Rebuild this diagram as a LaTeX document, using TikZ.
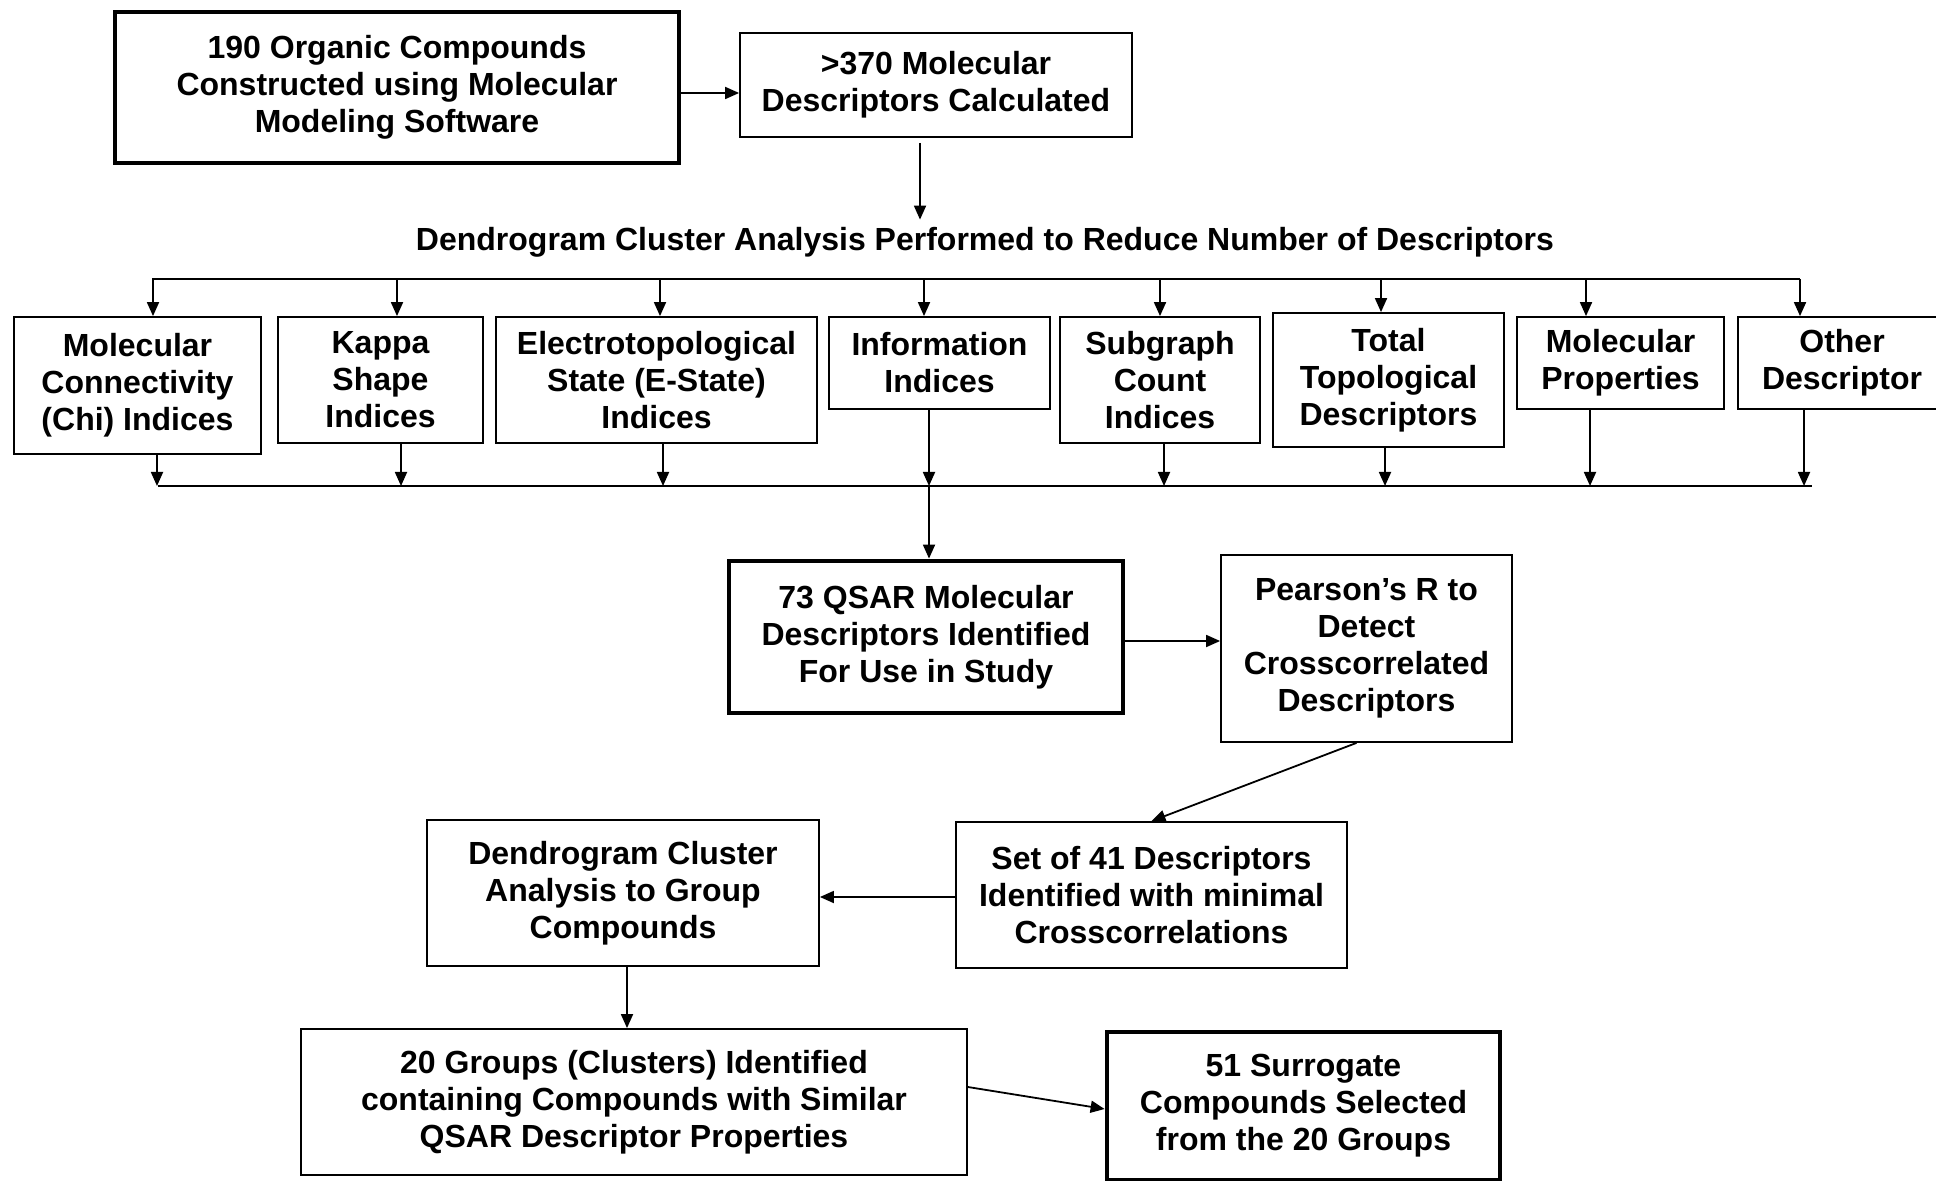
\documentclass[tikz,border=0pt]{standalone}
\usepackage{fontspec}
\setmainfont{Liberation Sans}
\usetikzlibrary{arrows.meta}
\begin{document}
\begin{tikzpicture}[x=0.5pt,y=-0.5pt,
  every node/.style={font=\fontsize{16}{18.5}\selectfont\bfseries, align=center, inner sep=0pt},
  box/.style={draw, line width=0.9pt},
  thickbox/.style={draw, line width=2.4pt},
  conn/.style={line width=0.9pt},
  arr/.style={conn, -{Triangle[length=7pt,width=6pt]}}]
\useasboundingbox (0,0) rectangle (1936,1181);

% top boxes
\node[thickbox, minimum width=282pt, minimum height=75.5pt] (b1) at (397,87.5) {190 Organic Compounds\\Constructed using Molecular\\Modeling Software};
\node[box, minimum width=196pt, minimum height=52pt] (b2) at (936,85) {>370 Molecular\\Descriptors Calculated};
\node (title) at (985,242) {Dendrogram Cluster Analysis Performed to Reduce Number of Descriptors};

\coordinate (ab) at ([yshift=-2.75pt]b1.east);
\draw[arr] (ab) -- (ab -| b2.west);
\coordinate (bt) at ([xshift=-8pt,yshift=-2.5pt]b2.south);
\draw[arr, shorten >=3.5pt] (bt) -- (bt |- title.north);

% descriptor row
\node[box, minimum width=123.5pt, minimum height=68.5pt] (r1) at (137.5,385.5) {Molecular\\Connectivity\\(Chi) Indices};
\node[box, minimum width=102.5pt, minimum height=63pt] (r2) at (380.5,380) {Kappa\\Shape\\Indices};
\node[box, minimum width=160.5pt, minimum height=63pt] (r3) at (656.5,380) {Electrotopological\\State (E-State)\\Indices};
\node[box, minimum width=110.5pt, minimum height=46pt] (r4) at (939.5,363) {Information\\Indices};
\node[box, minimum width=100pt, minimum height=63pt] (r5) at (1160,380) {Subgraph\\Count\\Indices};
\node[box, minimum width=115.5pt, minimum height=67pt] (r6) at (1388.5,380) {Total\\Topological\\Descriptors};
\node[box, minimum width=103.5pt, minimum height=46pt] (r7) at (1620.5,363) {Molecular\\Properties};
\node[box, minimum width=104pt, minimum height=46pt] (r8) at (1842,363) {Other\\Descriptor};

% top bus
\coordinate (busL) at (152,279);
\coordinate (busR) at (1800,279);
\draw[conn] (busL) -- (busR);
\foreach \x/\n in {153/r1, 397/r2, 660/r3, 924/r4, 1160/r5, 1381/r6, 1586/r7, 1800/r8}{
  \coordinate (tX) at (\x,279);
  \draw[arr] (tX) -- (tX |- \n.north);
}

% bottom bus
\coordinate (bbL) at (158,486);
\coordinate (bbR) at (1812,486);
\draw[conn] (bbL) -- (bbR);
\foreach \x/\n in {157/r1, 401/r2, 663/r3, 929/r4, 1164/r5, 1385/r6, 1590/r7, 1804/r8}{
  \coordinate (bX) at (\x,486);
  \draw[arr] (bX |- \n.south) -- (bX);
}

% lower part
\node[thickbox, minimum width=197pt, minimum height=76pt] (q) at (926,637) {73 QSAR Molecular\\Descriptors Identified\\For Use in Study};
\node[box, minimum width=145.5pt, minimum height=93.5pt] (p) at (1366.5,648.5) {Pearson’s R to\\Detect\\Crosscorrelated\\Descriptors};
\node[box, minimum width=195.5pt, minimum height=73pt] (s) at (1151.5,895) {Set of 41 Descriptors\\Identified with minimal\\Crosscorrelations};
\node[box, minimum width=196pt, minimum height=73pt] (d) at (623,893) {Dendrogram Cluster\\Analysis to Group\\Compounds};
\node[box, minimum width=333pt, minimum height=73pt] (g) at (634,1102) {20 Groups (Clusters) Identified\\containing Compounds with Similar\\QSAR Descriptor Properties};
\node[thickbox, minimum width=196.5pt, minimum height=74pt] (u) at (1303.5,1106) {51 Surrogate\\Compounds Selected\\from the 20 Groups};

\coordinate (qin) at (929,486);
\draw[arr] (qin) -- (qin |- q.north);
\coordinate (qp) at ([yshift=-2pt]q.east);
\draw[arr] (qp) -- (qp -| p.west);
\draw[arr] ([xshift=-5pt]p.south) -- (s.north);
\coordinate (sd) at ([yshift=-1pt]s.west);
\draw[arr] (sd) -- (sd -| d.east);
\coordinate (dg) at ([xshift=2pt]d.south);
\draw[arr] (dg) -- (dg |- g.north);
\draw[arr] ([yshift=7.5pt]g.east) -- ([yshift=-1.5pt]u.west);
\end{tikzpicture}
\end{document}
